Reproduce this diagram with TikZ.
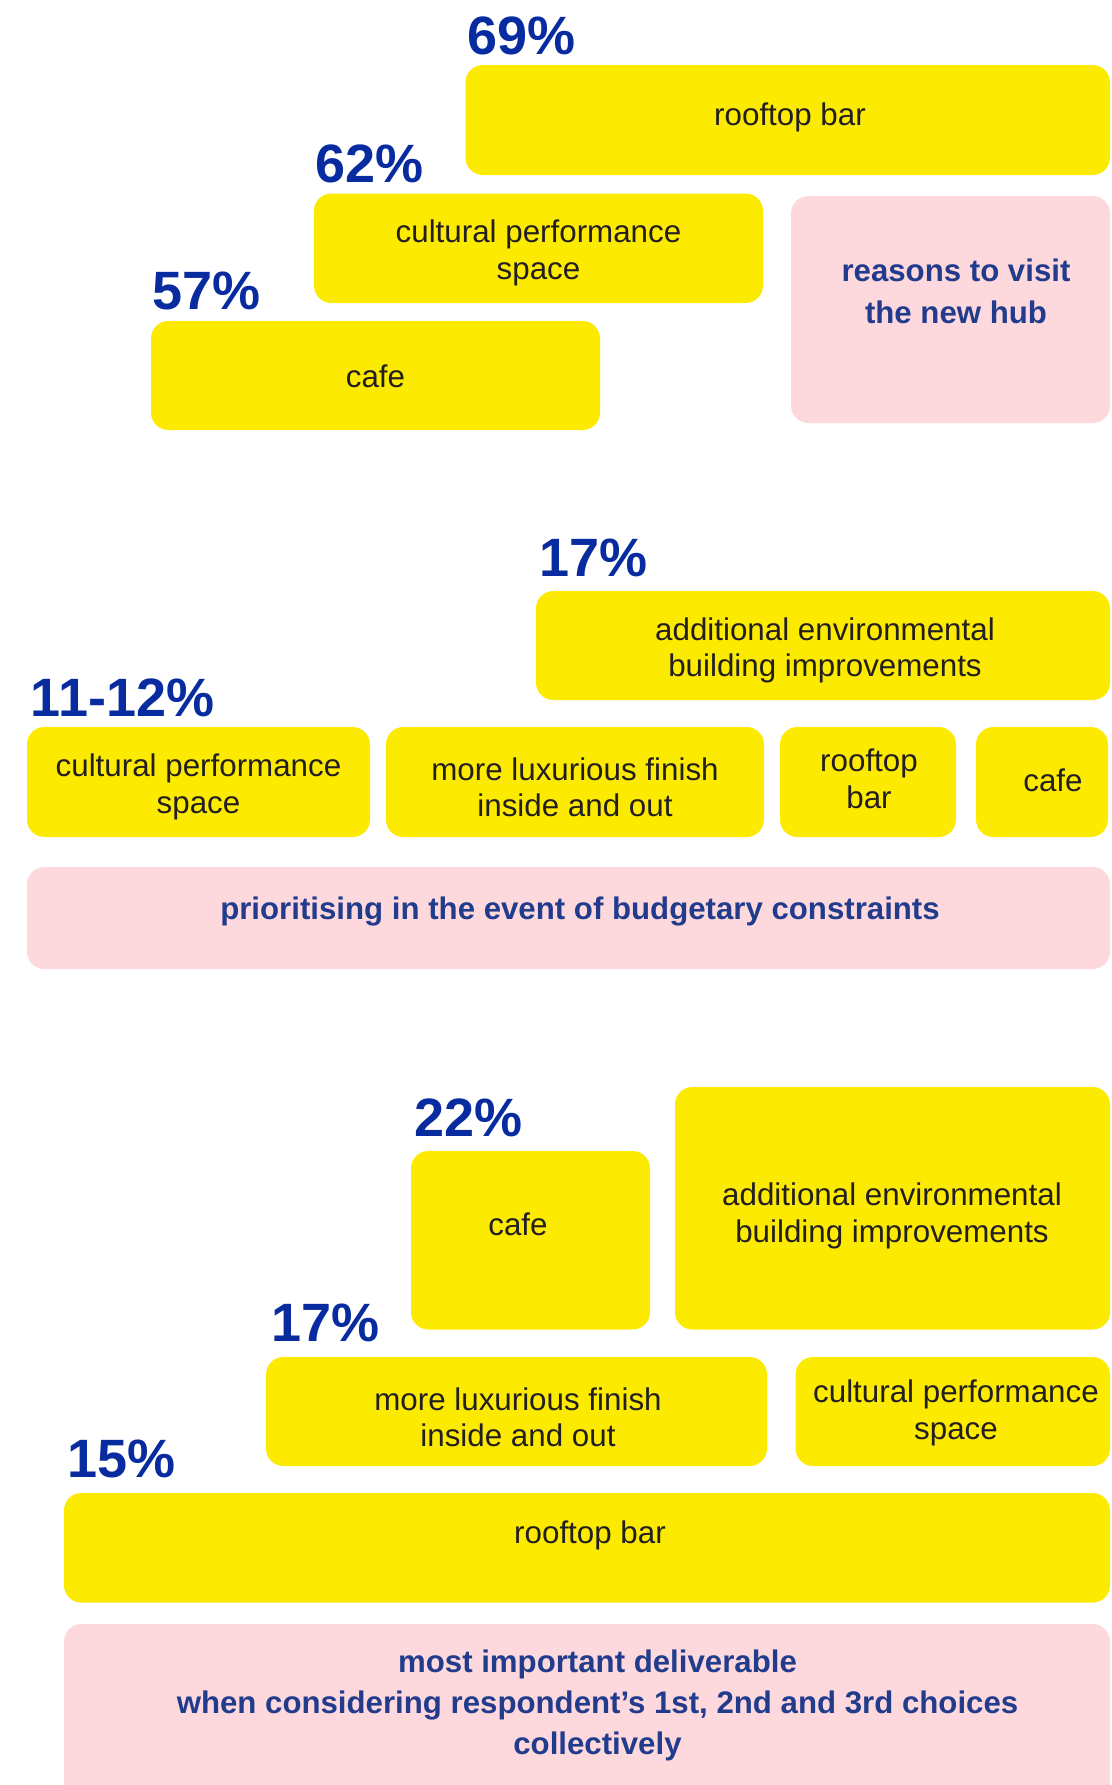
\documentclass[tikz,border=0pt]{standalone}
\usepackage{fontspec}
\setmainfont{Liberation Sans}
\definecolor{hubyellow}{RGB}{252,234,0}
\definecolor{hubpink}{RGB}{253,216,221}
\definecolor{pctblue}{RGB}{8,44,160}
\definecolor{hubnavy}{RGB}{33,60,140}
\definecolor{hubtext}{RGB}{35,31,32}

\begin{document}
\begin{tikzpicture}[x=0.75pt,y=-0.75pt,
    ybox/.style={fill=hubyellow, rounded corners=13pt},
    pbox/.style={fill=hubpink, rounded corners=13pt},
    pct/.style={anchor=base west, inner sep=0pt, text=pctblue, font=\fontsize{40.5}{48}\selectfont\bfseries},
    txt/.style={inner sep=0pt, yshift=-3pt, align=center, text=hubtext, font=\fontsize{23.5}{27.3}\selectfont},
    ptxt/.style={inner sep=0pt, yshift=-3pt, align=center, text=hubnavy, font=\fontsize{23.4}{31}\selectfont\bfseries}]
        \useasboundingbox (0,0) rectangle (1112,1785);
        \clip (0,0) rectangle (1112,1785);

        \fill[ybox] (465.5,65) rectangle (1110,175);
        \fill[ybox] (314,193.5) rectangle (763,303);
        \fill[pbox] (791,196) rectangle (1110,423);
        \fill[ybox] (151,321) rectangle (600,430);
        \node[pct] (p69) at (467,54.6) {69\%};
        \node[pct] (p62) at (315,182) {62\%};
        \node[pct] (p57) at (152.5,309.6) {57\%};
        \node[txt] (roofA) at (790,113) {rooftop bar};
        \node[txt] (cultA) at (538.5,249) {cultural performance\\space};
        \node[txt] (cafeA) at (375.5,372) {cafe};
        \node[ptxt, font=\fontsize{23.4}{31.5}\selectfont\bfseries] (visit) at (956,287) {reasons to visit\\the new hub};

        \fill[ybox] (536,591) rectangle (1110,700);
        \fill[ybox] (27,727) rectangle (370,837);
        \fill[ybox] (386,727) rectangle (764,837);
        \fill[ybox] (780,727) rectangle (956,837);
        \fill[ybox] (976,727) rectangle (1108,837);
        \fill[pbox] (27,867) rectangle (1110,969);
        \node[pct] (p17a) at (539.5,576) {17\%};
        \node[pct] (p11) at (30.7,716) {11-12\%};
        \node[txt] (envB) at (825,646.5) {additional environmental\\building improvements};
        \node[txt] (cultB) at (198.5,783) {cultural performance\\space};
        \node[txt] (luxB) at (575,783) {more luxurious finish\\inside and out};
        \node[txt] (roofB) at (869,775) {rooftop\\bar};
        \node[txt] (cafeB) at (1053,776) {cafe};
        \node[ptxt] (budget) at (580,907) {prioritising in the event of budgetary constraints};

        \fill[ybox] (411,1151) rectangle (650,1329.5);
        \fill[ybox] (675,1087) rectangle (1110,1329.5);
        \fill[ybox] (266,1357) rectangle (767,1466);
        \fill[ybox] (795.6,1357) rectangle (1110,1466);
        \fill[ybox] (64,1493) rectangle (1110,1602.6);
        \fill[pbox] (64,1624) rectangle (1110,1810);
        \node[pct] (p22) at (414,1136) {22\%};
        \node[pct] (p17b) at (271,1341) {17\%};
        \node[pct] (p15) at (67,1477) {15\%};
        \node[txt] (cafeC) at (518,1220) {cafe};
        \node[txt] (envC) at (892,1212) {additional environmental\\building improvements};
        \node[txt] (luxC) at (518,1413) {more luxurious finish\\inside and out};
        \node[txt] (cultC) at (956,1409) {cultural performance\\space};
        \node[txt] (roofC) at (590,1531) {rooftop bar};
        \node[ptxt, font=\fontsize{23.4}{30.75}\selectfont\bfseries] (deliv) at (597.5,1701.6) {most important deliverable\\when considering respondent’s 1st, 2nd and 3rd choices\\collectively};
    \end{tikzpicture}
\end{document}
